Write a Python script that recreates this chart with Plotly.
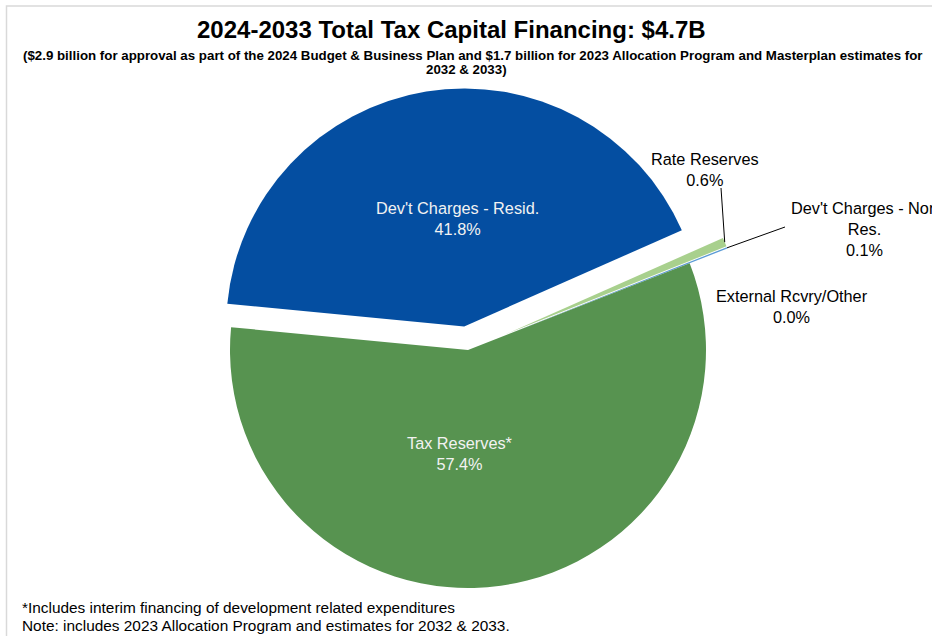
import math
import plotly.graph_objects as go

# Financing sources (share of total, %), in drawing order (clockwise)
sources = ["Dev't Charges - Resid.", "Rate Reserves", "Dev't Charges - Non Res.",
           "External Rcvry/Other", "Tax Reserves*"]
shares = [41.8, 0.6, 0.1, 0.0, 57.4]
slice_colors = ["#044EA1", "#A8D08D", "#5B9BD5", "#A5A5A5", "#579350"]
slice_pull = [0.1, 0.17, 0.17, 0.17, 0.0]

title_text = "2024-2033 Total Tax Capital Financing: $4.7B"
subtitle_lines = [
    "($2.9 billion for approval as part of the 2024 Budget & Business Plan and $1.7 billion "
    "for 2023 Allocation Program and Masterplan estimates for",
    "2032 & 2033)",
]
footnotes = [
    "*Includes interim financing of development related expenditures",
    "Note: includes 2023 Allocation Program and estimates for 2032 & 2033.",
]

W, H = 932, 636
FONT = "Liberation Sans, Arial, sans-serif"


def px(x):
    return x / W


def py(y):
    return 1 - y / H


# pie geometry (pixels)
cx, cy, r = 468, 350, 238
max_pull = max(slice_pull)
half = r * (1 + max_pull)
rotation = -84.5  # first slice starts here, measured clockwise from 12 o'clock

fig = go.Figure(go.Pie(
    labels=sources,
    values=shares,
    sort=False,
    direction="clockwise",
    rotation=rotation,
    pull=slice_pull,
    marker=dict(colors=slice_colors, line=dict(width=0)),
    textinfo="none",
    hoverinfo="label+percent",
    showlegend=False,
    domain=dict(x=[px(cx - half), px(cx + half)], y=[py(cy + half), py(cy - half)]),
))

total = sum(shares)


def slice_tip(i):
    """Outer point of slice i at its mid angle, including pull (pixels)."""
    before = sum(shares[:i])
    mid_cw = rotation + 360 * (before + shares[i] / 2) / total
    ang = math.radians(mid_cw)
    dist = r * (1 + slice_pull[i])
    return cx + dist * math.sin(ang), cy - dist * math.cos(ang)


def label(i):
    return f"{sources[i]}<br>{shares[i]:.1f}%"


annotations = []

# title and subtitle
annotations.append(dict(x=px(451), y=py(30), text=f"<b>{title_text}</b>", showarrow=False,
                        xref="paper", yref="paper", xanchor="center", yanchor="middle",
                        font=dict(family=FONT, size=24, color="#000000")))
annotations.append(dict(x=px(473), y=py(55), text=f"<b>{subtitle_lines[0]}</b>", showarrow=False,
                        xref="paper", yref="paper", xanchor="center", yanchor="middle",
                        font=dict(family=FONT, size=13.3, color="#000000")))
annotations.append(dict(x=px(466), y=py(70), text=f"<b>{subtitle_lines[1]}</b>", showarrow=False,
                        xref="paper", yref="paper", xanchor="center", yanchor="middle",
                        font=dict(family=FONT, size=13.3, color="#000000")))

# labels inside the two large slices
inside = {0: (457, 218), 4: (460, 454)}
for i, (x, y) in inside.items():
    annotations.append(dict(x=px(x), y=py(y), text=label(i), showarrow=False,
                            xref="paper", yref="paper", xanchor="center", yanchor="middle",
                            font=dict(family=FONT, size=16.3, color="#F2F2F2")))

# labels outside the small slices
outside_text = {
    1: label(1),
    2: "Dev't Charges - Non<br>Res.<br>" + f"{shares[2]:.1f}%",
    3: label(3),
}
outside_pos = {1: (705, 169), 2: (864, 229), 3: (792, 306)}
for i, (x, y) in outside_pos.items():
    annotations.append(dict(x=px(x), y=py(y), text=outside_text[i], showarrow=False,
                            xref="paper", yref="paper", xanchor="center", yanchor="middle",
                            font=dict(family=FONT, size=16.3, color="#000000")))

# footnotes
for txt, y in zip(footnotes, [607, 625]):
    annotations.append(dict(x=px(20), y=py(y), text=txt, showarrow=False,
                            xref="paper", yref="paper", xanchor="left", yanchor="middle",
                            font=dict(family=FONT, size=15.4, color="#000000")))

# leader lines from the small slices to their labels
shapes = []
leader_ends = {1: (721, 188), 2: (785, 227)}
for i, (ex, ey) in leader_ends.items():
    sx, sy = slice_tip(i)
    shapes.append(dict(type="line", xref="paper", yref="paper",
                       x0=px(sx), y0=py(sy), x1=px(ex), y1=py(ey),
                       line=dict(color="#000000", width=1)))

# chart-area frame
shapes.append(dict(type="rect", xref="paper", yref="paper",
                   x0=px(6.5), y0=py(H + 20), x1=px(W + 20), y1=py(6),
                   line=dict(color="#D9D9D9", width=1.5), fillcolor="rgba(0,0,0,0)"))

fig.update_layout(
    width=W, height=H,
    margin=dict(l=0, r=0, t=0, b=0),
    paper_bgcolor="#FFFFFF",
    plot_bgcolor="#FFFFFF",
    annotations=annotations,
    shapes=shapes,
)

fig.write_html("out.html")
